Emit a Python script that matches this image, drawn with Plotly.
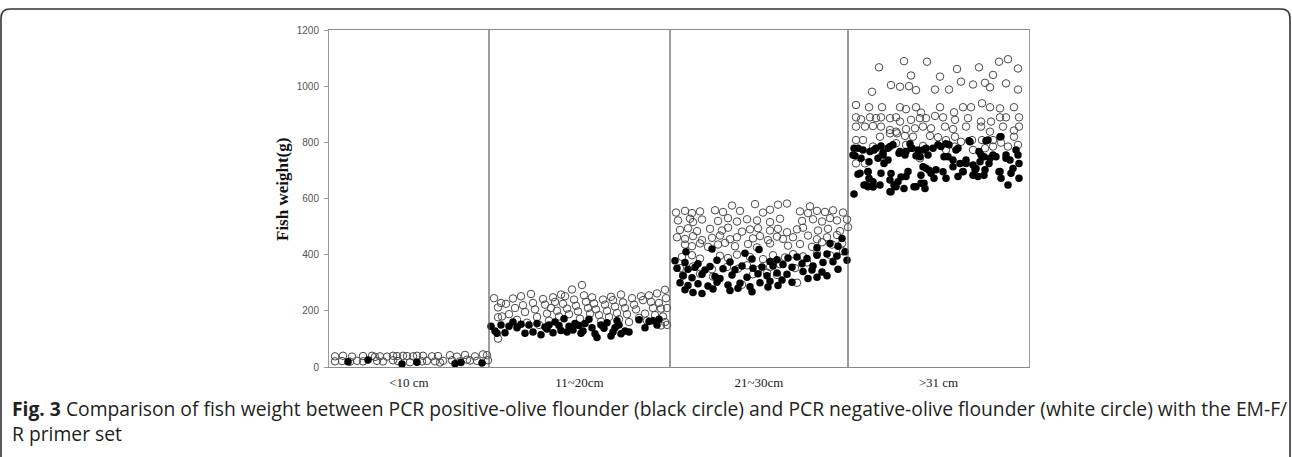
import plotly.graph_objects as go

# ---------------- data ----------------
groups = ["<10 cm", "11~20cm", "21~30cm", ">31 cm"]
y_ticks = [0, 200, 400, 600, 800, 1000, 1200]

# (sample order within group, fish weight g)
neg_lt10 = [(6,38),(6,20),(13,21),(14,40),(21,19),(23,37),(28,22),(34,39),(34,20),(43,40),(46,36),(48,22),
            (51,38),(54,20),(58,37),(64,24),(64,40),(68,39),(69,21),(74,40),(78,39),(81,17),(84,38),(88,40),
            (93,20),(94,40),(98,22),(103,38),(106,20),(109,39),(111,16),(114,22),(121,42),(123,24),(128,37),
            (131,20),(136,43),(138,26),(141,23),(146,38),(148,22),(154,45),(158,42),(159,24)]
pos_lt10 = [(19,19),(39,25),(73,11),(88,17),(126,12),(132,16),(153,14)]

neg_11_20 = [(5,245),(9,212),(9,177),(9,101),(12,228),(13,180),(17,225),(20,188),(24,244),(26,210),(28,168),
             (32,252),(34,220),(36,196),(38,158),(42,260),(44,228),(46,205),(48,178),(50,150),(54,242),
             (56,222),(58,190),(60,165),(62,210),(64,248),(66,232),(68,200),(70,180),(72,258),(74,225),
             (76,252),(78,208),(80,188),(83,276),(85,240),(87,218),(89,198),(91,172),(93,292),(95,255),
             (97,232),(99,210),(101,190),(103,248),(105,226),(107,205),(110,185),(112,162),(114,240),
             (116,222),(118,200),(120,178),(122,250),(124,238),(126,215),(128,192),(130,170),(132,258),
             (134,230),(136,210),(138,188),(140,160),(143,245),(145,222),(147,205),(150,175),(152,252),
             (154,238),(156,190),(158,165),(160,255),(162,232),(164,210),(166,185),(168,262),(170,228),
             (172,208),(174,180),(176,275),(177,245),(178,210),(178,150),(176,160),(172,148)]
pos_11_20 = [(2,145),(6,128),(8,120),(12,150),(16,122),(20,145),(24,160),(28,140),(32,152),(36,120),(40,150),
             (44,125),(48,155),(52,115),(56,142),(58,135),(60,150),(64,122),(66,160),(70,148),(72,130),
             (75,172),(78,125),(80,145),(84,132),(86,155),(90,148),(92,120),(94,128),(96,155),(100,170),
             (103,140),(106,118),(108,105),(112,150),(115,138),(118,158),(122,110),(124,125),(126,140),
             (128,165),(130,150),(132,118),(136,128),(140,125),(150,168),(156,140),(160,162),(164,165),
             (170,170),(168,150)]

neg_21_30 = [(62,575),(85,580),(108,578),(117,582),(140,572),
             (6,550),(15,556),(22,548),(30,554),(45,558),(53,552),(70,556),(93,550),(100,560),(130,554),
             (138,548),(147,556),(155,552),(163,558),(173,550),
             (8,522),(20,528),(23,516),(32,525),(48,520),(58,530),(67,518),(77,526),(87,522),(100,516),
             (110,528),(132,520),(143,526),(152,518),(160,530),(167,522),(177,525),
             (10,488),(18,494),(27,484),(40,492),(52,486),(58,496),(72,482),(80,490),(88,494),(100,486),
             (108,492),(117,480),(127,490),(133,496),(148,486),(158,492),(170,484),(178,498),
             (7,462),(15,456),(23,466),(32,452),(42,460),(50,468),(60,455),(67,462),(83,458),(90,466),
             (98,452),(107,464),(113,456),(123,462),(138,468),(147,455),(157,462),(167,470),
             (15,436),(22,430),(30,440),(38,428),(48,436),(55,442),(65,430),(78,438),(87,426),(100,440),
             (118,432),(130,438),(142,428),(152,444),(162,436),(172,440),
             (12,392),(22,398),(30,386),(50,396),(58,388),(67,400),(80,392),(93,384),(103,398),(115,390),
             (123,402),(133,394),(147,404),(160,398),(173,412),
             (10,352),(23,358),(42,348),(57,356),(68,350),(77,362),(88,346),(100,356),(110,366),(125,352),
             (137,372),
             (13,326),(30,332),(43,322),(83,330),(97,336),(107,328),
             (72,293),(127,300)]
pos_21_30 = [(16,410),(42,420),(75,405),(89,418),(168,430),(172,458),(160,440),(147,425),
             (5,378),(15,372),(28,368),(47,380),(60,374),(82,385),(100,376),(107,382),(118,388),(127,392),
             (137,386),(147,398),(157,402),(167,395),(175,410),
             (7,352),(18,348),(25,355),(35,345),(40,358),(53,350),(65,346),(72,360),(83,352),(92,356),
             (103,360),(113,365),(122,355),(132,368),(143,360),(153,372),(163,375),(177,380),
             (13,325),(22,318),(32,330),(45,322),(50,315),(62,328),(77,320),(88,332),(97,325),(107,335),
             (117,330),(133,340),(142,345),(152,338),(168,348),
             (10,300),(18,290),(28,296),(38,288),(47,302),(58,292),(70,298),(80,286),(90,300),(100,305),
             (112,310),(122,302),(138,315),(147,320),(157,325),
             (15,275),(23,265),(32,262),(43,278),(60,272),(68,280),(82,268),(98,285),(108,290)]

neg_gt31 = [(31,1067),(56,1089),(79,1087),(109,1061),(131,1067),(151,1087),(160,1096),(170,1063),(145,1040),
            (63,1038),(92,1034),(24,980),(43,1004),(52,998),(61,1000),(68,986),(87,988),(101,988),(113,1016),
            (125,1006),(137,1012),(142,996),(158,1010),(170,988),
            (8,933),(21,925),(34,925),(52,925),(58,918),(68,925),(73,906),(92,925),(106,907),(115,925),
            (123,925),(134,939),(142,925),(152,921),(166,925),
            (8,889),(13,882),(22,889),(28,886),(33,889),(42,886),(48,889),(52,874),(63,880),(72,886),
            (78,886),(87,894),(95,889),(107,880),(120,886),(133,874),(143,874),(152,889),(158,889),(171,889),
            (8,856),(17,856),(25,858),(33,856),(42,844),(48,838),(58,847),(67,850),(75,856),(83,850),
            (97,856),(105,847),(118,856),(133,856),(142,838),(155,856),(166,842),(171,856),
            (8,808),(15,808),(32,820),(42,832),(49,832),(57,823),(65,820),(82,823),(90,818),(98,808),
            (107,820),(113,802),(124,808),(134,808),(145,808),(153,799),(170,791),(166,820),
            (8,725),(17,725),(25,785),(33,749),(48,797),(58,791),(75,787),(98,773),(107,785),(125,773),
            (137,779),(145,785),(160,785),(72,743)]
pos_gt31 = [(6,779),(7,752),(15,773),(13,743),(21,731),(26,773),(30,743),(35,764),(40,779),(45,791),(36,725),
            (51,761),(58,767),(63,779),(68,752),(75,773),(80,755),(85,779),(90,791),(96,749),(101,791),
            (108,773),(121,806),(138,806),(153,820),(145,755),(158,743),(168,773),(171,725),(131,767),
            (136,749),
            (10,686),(20,695),(21,672),(16,648),(20,642),(25,642),(6,616),(43,689),(46,648),(53,677),
            (56,636),(66,642),(73,683),(76,654),(75,713),(81,701),(86,672),(95,695),(98,672),(105,713),
            (115,695),(118,725),(125,683),(128,707),(136,683),(141,725),(151,695),(153,672),(160,648),
            (171,672),(165,707),(43,624),(50,660),
            (5,755),(10,779),(22,767),(28,779),(33,787),(42,785),(35,755),(40,737),(52,767),(57,755),
            (62,795),(64,779),(70,773),(72,749),(78,779),(93,785),(98,795),(100,749),(110,779),(122,802),
            (118,737),(133,755),(140,808),(152,820),(158,755),(170,755),(162,737),(142,743),(148,749),
            (12,690),(20,696),(18,648),(25,660),(32,648),(33,690),(42,666),(48,642),(58,678),(60,696),
            (68,642),(73,654),(78,708),(83,690),(88,702),(110,678),(115,696),(127,702),(130,678),
            (137,702),(152,696),(163,690),(42,624),(25,642),(77,636),(105,737),(112,725),(125,719),
            (132,731)]

caption = ("<b>Fig. 3</b> Comparison of fish weight between PCR positive-olive flounder (black circle) and "
           "PCR negative-olive flounder (white circle) with the EM-F/<br>R primer set")

# ---------------- layout constants ----------------
W, H = 1292, 457
PL, PR, PT, PB = 329, 1029, 30, 367          # plot area in pixels
panel_start = [0, 160, 341, 519]               # x-axis units (1 unit = 1 px)
x_end = 700

def px(xp):  # pixel -> paper x
    return (xp - PL) / (PR - PL)

def py(yp):  # pixel -> paper y
    return (PB - yp) / (PB - PT)

neg_sets = [neg_lt10, neg_11_20, neg_21_30, neg_gt31]
pos_sets = [pos_lt10, pos_11_20, pos_21_30, pos_gt31]

neg_x, neg_y, pos_x, pos_y = [], [], [], []
for start, ns, ps in zip(panel_start, neg_sets, pos_sets):
    for o, v in ns:
        neg_x.append(start + o); neg_y.append(v)
    for o, v in ps:
        pos_x.append(start + o); pos_y.append(v)

fig = go.Figure()
fig.add_trace(go.Scatter(x=neg_x, y=neg_y, mode="markers", name="PCR negative",
                         marker=dict(symbol="circle-open", size=7.5, color="#4a4a4a",
                                     line=dict(width=1, color="#4a4a4a")),
                         showlegend=False, cliponaxis=True))
fig.add_trace(go.Scatter(x=pos_x, y=pos_y, mode="markers", name="PCR positive",
                         marker=dict(symbol="circle", size=7.5, color="#000000"),
                         showlegend=False, cliponaxis=True))

bounds = panel_start[1:]
centers = [(a + b) / 2 for a, b in zip(panel_start, panel_start[1:] + [x_end])]

shapes = []
for b in bounds:
    shapes.append(dict(type="line", xref="x", yref="paper", x0=b, x1=b, y0=0, y1=1,
                       line=dict(color="#5a5a5a", width=1.2)))

# outer rounded frame
l, r, t, btm = px(1), px(1290), py(9), py(480)
rx, ry = 9 / (PR - PL), 9 / (PB - PT)
path = (f"M {l},{btm} L {l},{t - ry} Q {l},{t} {l + rx},{t} L {r - rx},{t} "
        f"Q {r},{t} {r},{t - ry} L {r},{btm}")
shapes.append(dict(type="path", xref="paper", yref="paper", path=path,
                   line=dict(color="#333333", width=1.6)))

annotations = [
    dict(text="<b>Fish weight(g)</b>", x=px(282), y=py(190), xref="paper", yref="paper",
         textangle=-90, showarrow=False, xanchor="center", yanchor="middle",
         font=dict(family="Liberation Serif", size=17, color="#111111")),
    dict(text=caption, x=px(10), y=py(421), xref="paper", yref="paper", showarrow=False,
         xanchor="left", yanchor="middle", align="left",
         font=dict(family="Open Sans", size=19.3, color="#231f20")),
]

fig.update_layout(
    width=W, height=H,
    margin=dict(l=PL, r=W - PR, t=PT, b=H - PB, pad=0),
    paper_bgcolor="white", plot_bgcolor="white",
    shapes=shapes, annotations=annotations,
    xaxis=dict(range=[0, x_end], tickvals=centers, ticktext=groups, showgrid=False, zeroline=False,
               showline=True, linecolor="#8a8a8a", linewidth=1, mirror=True,
               ticks="outside", ticklen=3, tickcolor="rgba(0,0,0,0)",
               tickfont=dict(family="Liberation Serif", size=13, color="#222222")),
    yaxis=dict(range=[0, 1200], tickvals=y_ticks, showgrid=False, zeroline=False,
               showline=True, linecolor="#9a9a9a", linewidth=1, mirror=True,
               ticks="outside", ticklen=4, tickcolor="#9a9a9a", ticklabelstandoff=3,
               tickfont=dict(family="Liberation Sans", size=10, color="#555555")),
)

fig.write_html("out.html", config={"displayModeBar": False},
               post_script="document.body.style.margin='0';document.body.style.padding='0';")
